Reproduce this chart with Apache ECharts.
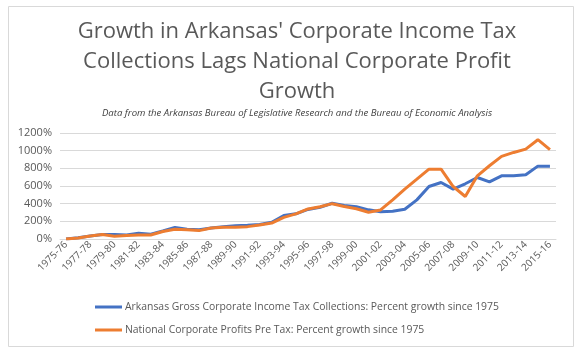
<!DOCTYPE html>
<html>
<head>
<meta charset="utf-8">
<script src="https://cdn.jsdelivr.net/npm/echarts@6/dist/echarts.min.js"></script>
<style>html,body{margin:0;padding:0;background:#fff;}#c{width:584px;height:357px;}</style>
</head>
<body>
<div id="c"></div>
<script>
var categories = [];
for (var y = 1975; y <= 2015; y++) {
  categories.push(y + '-' + String((y + 1) % 100).padStart(2, '0'));
}
var arkansas = [0, 15, 35, 50, 50, 45, 65, 55, 90, 130, 110, 105, 125, 140, 150, 155, 165, 190, 265, 285,
  335, 360, 405, 380, 365, 330, 308, 314, 337, 443, 594, 640, 564, 625, 696, 647, 715, 715, 727, 825, 825];
var national = [0, 12, 35, 50, 30, 40, 45, 45, 85, 110, 105, 95, 125, 132, 132, 140, 158, 180, 245, 285,
  340, 365, 400, 368, 342, 303, 329, 443, 564, 677, 791, 791, 594, 481, 715, 829, 935, 980, 1018, 1124, 1011];
var yTicks = { min: 0, max: 1200, interval: 200 };
var seriesNames = ['Arkansas Gross Corporate Income Tax Collections: Percent growth since 1975',
  'National Corporate Profits Pre Tax: Percent growth since 1975'];

var txt = '#595959';
var font = 'Open Sans';
var chart = echarts.init(document.getElementById('c'));
chart.setOption({
  animation: false,
  graphic: [{
    type: 'rect', shape: { x: 8.5, y: 6.5, width: 565, height: 340 },
    style: { fill: 'none', stroke: '#D9D9D9', lineWidth: 1 }, silent: true
  }],
  title: [{
    text: "Growth in Arkansas' Corporate Income Tax\nCollections Lags National Corporate Profit\nGrowth",
    left: 292, top: 12,
    textAlign: 'center',
    textStyle: { fontFamily: font, fontSize: 22, fontWeight: 'normal', color: txt, lineHeight: 30 }
  }, {
    text: 'Data from the Arkansas Bureau of Legislative Research and the Bureau of Economic Analysis',
    left: 292, top: 103, textAlign: 'center',
    textStyle: { fontFamily: font, fontSize: 9.6, fontStyle: 'italic', fontWeight: 'normal', color: '#404040' }
  }],
  legend: {
    orient: 'vertical', left: 90, top: 297,
    itemWidth: 27, itemHeight: 3, itemGap: 13, icon: 'rect',
    textStyle: { fontFamily: font, fontSize: 10.4, color: txt, padding: [0, 0, 0, -2] },
    data: seriesNames
  },
  grid: { left: 60, right: 28, top: 133, bottom: 118, containLabel: false },
  xAxis: {
    type: 'category', data: categories, boundaryGap: true,
    axisLine: { show: true, lineStyle: { color: '#D9D9D9' } },
    axisTick: { show: false },
    axisLabel: { interval: 1, rotate: 45, fontFamily: font, fontSize: 10, color: txt, margin: 4 }
  },
  yAxis: {
    type: 'value', min: yTicks.min, max: yTicks.max, interval: yTicks.interval,
    axisLine: { show: false }, axisTick: { show: false },
    splitLine: { lineStyle: { color: '#D9D9D9' } },
    axisLabel: { formatter: function (v) { return v + '%'; }, fontFamily: font, fontSize: 11, color: txt, margin: 8 }
  },
  series: [{
    name: seriesNames[0], type: 'line', data: arkansas, symbol: 'none',
    lineStyle: { color: '#4472C4', width: 3 }, itemStyle: { color: '#4472C4' }
  }, {
    name: seriesNames[1], type: 'line', data: national, symbol: 'none',
    lineStyle: { color: '#ED7D31', width: 3 }, itemStyle: { color: '#ED7D31' }
  }]
});
</script>
</body>
</html>
